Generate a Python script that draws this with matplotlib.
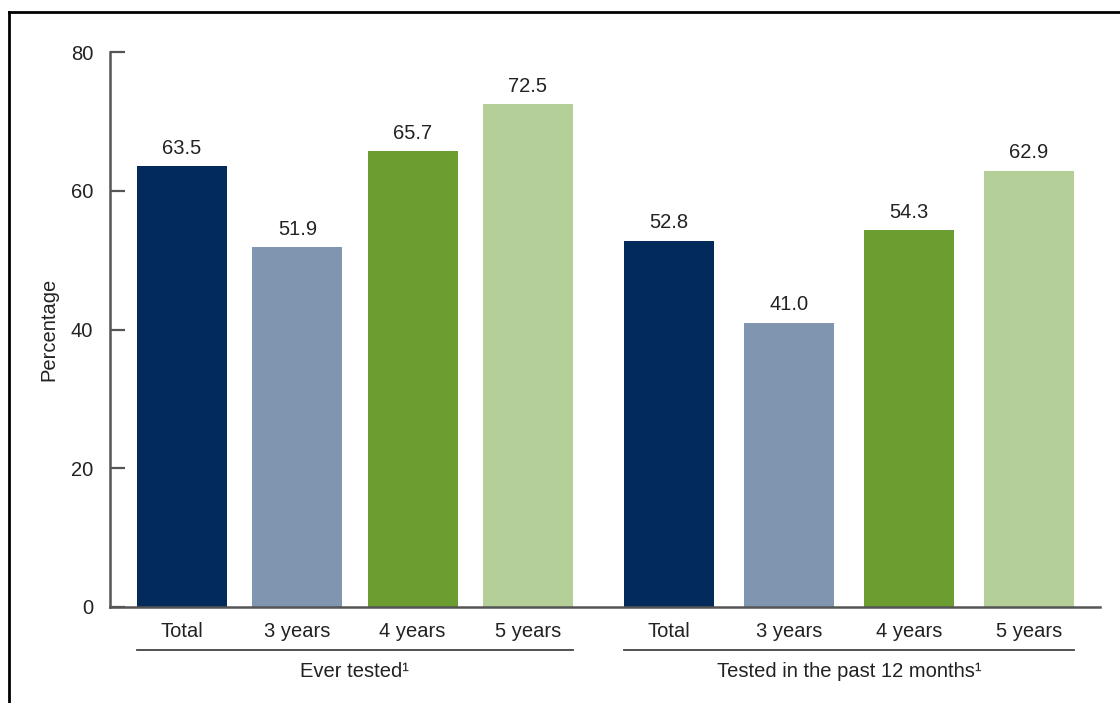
import numpy as np
import matplotlib
matplotlib.use("Agg")
import matplotlib.pyplot as plt
import matplotlib.transforms as mtrans
from matplotlib.lines import Line2D

plt.rcParams['font.family'] = ['Liberation Sans', 'DejaVu Sans']

groups = ["Ever tested¹", "Tested in the past 12 months¹"]
categories = ["Total", "3 years", "4 years", "5 years"]
ever_tested = [63.5, 51.9, 65.7, 72.5]
past_12_months = [52.8, 41.0, 54.3, 62.9]
colors = ["#022B5B", "#7F95B0", "#6B9D31", "#B5CF98"]
yticks = [0, 20, 40, 60, 80]

FS = 14.5
fig = plt.figure(figsize=(11.2, 7.03), dpi=100)
ax = fig.add_axes([110 / 1120, 96 / 703, 990 / 1120, 555 / 703])

# layout (slot units): group starts and step
group_offsets = [0.6, 4.658]
group_steps = [0.961, 1.0]
bar_w = 0.75

text_color = "#222222"
for gi, (vals, off, step) in enumerate(zip([ever_tested, past_12_months], group_offsets, group_steps)):
    xs = off + np.arange(len(categories)) * step
    ax.bar(xs, vals, width=bar_w, color=colors, zorder=2)
    for x, v, c in zip(xs, vals, categories):
        ax.annotate(f"{v:.1f}", (x, v), xytext=(0, 6), textcoords="offset points",
                    ha="center", va="bottom", fontsize=FS, color=text_color)
        ax.annotate(c, (x, 0), xytext=(0, -17.5), textcoords="offset points",
                    ha="center", va="center", fontsize=FS, color=text_color,
                    annotation_clip=False)
    left = xs[0] - bar_w / 2
    right = xs[-1] + bar_w / 2
    line = Line2D([left, right], [0, 0], color="#444444", lw=1.3, clip_on=False)
    line.set_transform(ax.get_xaxis_transform() + mtrans.ScaledTranslation(0, -43 / 100, fig.dpi_scale_trans))
    ax.add_line(line)
    ax.annotate(groups[gi], ((left + right) / 2, 0), xytext=(0, -46.5), textcoords="offset points",
                ha="center", va="center", fontsize=FS, color=text_color,
                annotation_clip=False)

ax.set_xlim(0, 8.25)
ax.set_ylim(0, 80)
ax.set_yticks(yticks)
ax.set_yticklabels([str(t) for t in yticks], fontsize=FS, color=text_color)
ax.set_xticks([])
ax.tick_params(axis="y", direction="in", length=11, width=1.6, color="#555555", pad=12)
for s in ["top", "right"]:
    ax.spines[s].set_visible(False)
for s in ["left", "bottom"]:
    ax.spines[s].set_color("#555555")
    ax.spines[s].set_linewidth(1.8)
ax.set_ylabel("Percentage", fontsize=FS, color=text_color, labelpad=9)

# figure border (left and top)
fig.add_artist(Line2D([9 / 1120, 9 / 1120], [0, 1 - 12 / 703], transform=fig.transFigure, color="black", lw=2))
fig.add_artist(Line2D([9 / 1120, 1], [1 - 12 / 703, 1 - 12 / 703], transform=fig.transFigure, color="black", lw=2))

fig.savefig("out.png", dpi=100)
